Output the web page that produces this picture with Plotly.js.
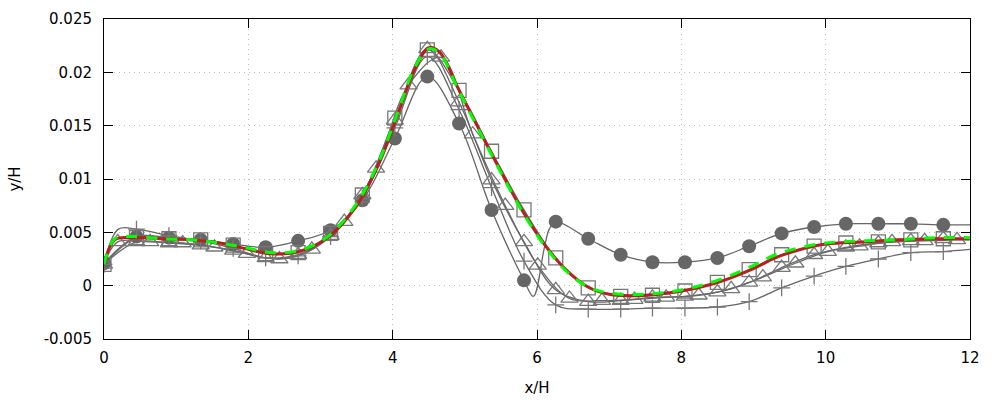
<!DOCTYPE html>
<html>
<head>
<meta charset="utf-8">
<script src="https://cdn.plot.ly/plotly-3.0.1.min.js"></script>
<style>
  body { margin: 0; background: #fff; }
  #finalPlot { width: 1000px; height: 400px; }
</style>
</head>
<body>
<div id="finalPlot"></div>
<script>
// marker positions (x/H) shared by circles, squares, triangles A and plus
var markX = [0, 0.45, 0.9, 1.34, 1.79, 2.24, 2.69, 3.14, 3.58, 4.03, 4.48, 4.92, 5.37, 5.82,
  6.26, 6.71, 7.16, 7.6, 8.05, 8.5, 8.94, 9.39, 9.84, 10.28, 10.73, 11.18, 11.63];
// second triangle set sits a little to the right
var triBX = [0.19, 0.64, 1.09, 1.53, 1.98, 2.43, 2.88, 3.33, 3.77, 4.22, 4.67, 5.11, 5.56, 6.01,
  6.45, 6.9, 7.35, 7.79, 8.24, 8.69, 9.13, 9.58, 10.03, 10.47, 10.92, 11.37, 11.82];

var circleY = [0.0021, 0.0046, 0.0045, 0.0043, 0.0039, 0.0036, 0.0042, 0.0052, 0.008, 0.0138,
  0.0196, 0.0152, 0.0071, 0.0005, 0.006, 0.0044, 0.0029, 0.0022, 0.0022, 0.0026, 0.0037,
  0.0049, 0.0055, 0.0058, 0.0058, 0.0058, 0.0057];
var circleExtraX = [5.95, 6.1, 6.17, 12];
var circleExtraY = [-0.001, 0.0035, 0.0053, 0.0057];

var squareY = [0.002, 0.0045, 0.0044, 0.0043, 0.0038, 0.003, 0.0031, 0.0049, 0.0085, 0.0157,
  0.0221, 0.0183, 0.0126, 0.0071, 0.0026, -0.0002, -0.001, -0.0009, -0.0005, 0.0003, 0.0015,
  0.0029, 0.0037, 0.004, 0.0041, 0.0043, 0.0044];
var squareExtraX = [12];
var squareExtraY = [0.0044];

var triAY = [0.002, 0.0041, 0.004, 0.0038, 0.0033, 0.0026, 0.0029, 0.0047, 0.0085, 0.0155,
  0.0222, 0.0172, 0.0099, 0.0041, -0.0004, -0.0015, -0.0014, -0.0011, -0.001, -0.0006, 0.0003,
  0.0017, 0.0029, 0.0036, 0.004, 0.0042, 0.0044];
var triAExtraX = [12];
var triAExtraY = [0.0044];

var triBY = [0.0041, 0.0041, 0.004, 0.0036, 0.003, 0.0025, 0.0034, 0.006, 0.011, 0.0188,
  0.0214, 0.0142, 0.0075, 0.0019, -0.0012, -0.0014, -0.0013, -0.0011, -0.0009, -0.0003, 0.0008,
  0.0021, 0.0032, 0.0037, 0.0041, 0.0042, 0.0043];
var triBExtraX = [0, 12];
var triBExtraY = [0.002, 0.0043];

var plusY = [0.002, 0.0053, 0.0047, 0.0042, 0.0035, 0.0026, 0.0028, 0.0046, 0.0082, 0.0148,
  0.0215, 0.0165, 0.0092, 0.0023, -0.0018, -0.0022, -0.0022, -0.0021, -0.0021, -0.002, -0.0015,
  -0.0002, 0.0009, 0.0018, 0.0025, 0.0031, 0.0032];
var plusExtraX = [0.2, 12];
var plusExtraY = [0.0053, 0.0034];

// the two thick curves
var curveX = [0, 0.15, 0.4, 0.8, 1.2, 1.6, 2.0, 2.3, 2.7, 3.1, 3.5, 3.8, 4.1, 4.3, 4.5, 4.65,
  4.9, 5.2, 5.5, 5.8, 6.1, 6.4, 6.7, 7.0, 7.5, 8.0, 8.5, 9.0, 9.3, 9.6, 10.0, 10.5, 11.0, 11.5, 12.0];
var redY = [0.002, 0.0043, 0.0045, 0.0044, 0.0043, 0.004, 0.0034, 0.003, 0.0032, 0.0045, 0.0075,
  0.0113, 0.0166, 0.0202, 0.0223, 0.0219, 0.0186, 0.0146, 0.0107, 0.007, 0.0039, 0.0015, -0.0001,
  -0.0008, -0.0009, -0.0005, 0.0003, 0.0016, 0.0026, 0.0033, 0.0039, 0.0041, 0.0043, 0.0044, 0.0044];
var greenY = [0.002, 0.0044, 0.0046, 0.0044, 0.0043, 0.004, 0.0035, 0.0031, 0.0033, 0.0046, 0.0077,
  0.0115, 0.0168, 0.0204, 0.0222, 0.0218, 0.0185, 0.0145, 0.0106, 0.0069, 0.0038, 0.0014, -0.0001,
  -0.0007, -0.0008, -0.0004, 0.0005, 0.0019, 0.0029, 0.0035, 0.004, 0.0042, 0.0043, 0.0045, 0.0045];

var yTickVals = [-0.005, 0, 0.005, 0.01, 0.015, 0.02, 0.025];
var yTickText = ["-0.005", "0", "0.005", "0.01", "0.015", "0.02", "0.025"];

var gray = "#666666";
var markGray = "#777777";

// line goes through the markers plus a few extra points
function merged(xs, ys, ex, ey) {
  var pts = [];
  for (var i = 0; i < xs.length; i++) pts.push([xs[i], ys[i]]);
  for (var j = 0; j < ex.length; j++) pts.push([ex[j], ey[j]]);
  pts.sort(function (a, b) { return a[0] - b[0]; });
  return { x: pts.map(function (p) { return p[0]; }), y: pts.map(function (p) { return p[1]; }) };
}

function grayLine(xs, ys, ex, ey) {
  var m = merged(xs, ys, ex, ey);
  return {
    x: m.x, y: m.y, mode: "lines", type: "scatter", hoverinfo: "skip",
    line: { color: gray, width: 1.3, shape: "spline", smoothing: 1 }
  };
}

function marks(xs, ys, symbol, size) {
  return {
    x: xs, y: ys, mode: "markers", type: "scatter",
    marker: {
      symbol: symbol, size: size, color: markGray,
      line: { color: markGray, width: 1.3 }
    }
  };
}

var data = [
  grayLine(markX, circleY, circleExtraX, circleExtraY),
  grayLine(markX, squareY, squareExtraX, squareExtraY),
  grayLine(markX, triAY, triAExtraX, triAExtraY),
  grayLine(triBX, triBY, triBExtraX, triBExtraY),
  grayLine(markX, plusY, plusExtraX, plusExtraY),
  {
    x: markX, y: circleY, mode: "markers", type: "scatter",
    marker: { symbol: "circle", size: 14, color: gray, line: { width: 0 } }
  },
  marks(markX, squareY, "square-open", 14),
  marks(markX, triAY, "triangle-up-open", 15),
  marks(triBX, triBY, "triangle-up-open", 15),
  marks(markX, plusY, "cross-thin-open", 12),
  {
    x: curveX, y: redY, mode: "lines", type: "scatter",
    line: { color: "#b22222", width: 3, shape: "spline", smoothing: 1 }
  },
  {
    x: curveX, y: greenY, mode: "lines", type: "scatter",
    line: { color: "#00ff00", width: 3, shape: "spline", smoothing: 1, dash: "11px,9px" }
  }
];

var axisFont = { family: "DejaVu Sans", size: 15, color: "#000" };

var layout = {
  width: 1000,
  height: 400,
  showlegend: false,
  paper_bgcolor: "#fff",
  plot_bgcolor: "#fff",
  margin: { l: 104, r: 30, t: 19, b: 61 },
  font: axisFont,
  xaxis: {
    range: [0, 12],
    dtick: 2,
    tick0: 0,
    ticks: "inside",
    ticklen: 9,
    tickcolor: "#000",
    showline: true,
    linecolor: "#000",
    linewidth: 1,
    mirror: "ticks",
    showgrid: true,
    gridcolor: "#bdbdbd",
    griddash: "1px,4px",
    zeroline: false,
    ticklabelstandoff: 5,
    tickfont: axisFont,
    title: { text: "x/H", font: axisFont, standoff: 16 }
  },
  yaxis: {
    range: [-0.005, 0.025],
    tickvals: yTickVals,
    ticktext: yTickText,
    ticks: "inside",
    ticklen: 9,
    tickcolor: "#000",
    showline: true,
    linecolor: "#000",
    linewidth: 1,
    mirror: "ticks",
    showgrid: true,
    gridcolor: "#bdbdbd",
    griddash: "1px,4px",
    zeroline: false,
    ticklabelstandoff: 8,
    tickfont: axisFont,
    title: { text: "y/H", font: axisFont, standoff: 19 }
  }
};

Plotly.newPlot("finalPlot", data, layout, { staticPlot: true });
</script>
</body>
</html>
